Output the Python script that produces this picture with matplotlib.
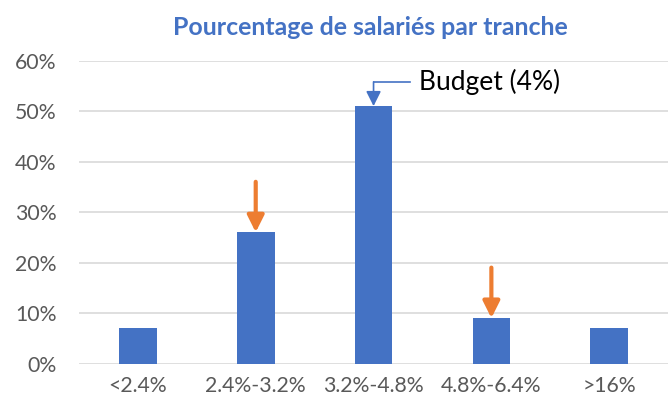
import matplotlib.pyplot as plt
from matplotlib.ticker import PercentFormatter

# Data
categories = ['<2.4%', '2.4%-3.2%', '3.2%-4.8%', '4.8%-6.4%', '>16%']
shares = [0.07, 0.26, 0.51, 0.09, 0.07]
marked = [1, 3]          # bars with an orange arrow
arrow_top = [0.36, 0.19]
budget_idx = 2
budget_label = 'Budget (4%)'
title = 'Pourcentage de salariés par tranche'

blue = '#4472C4'
orange = '#ED7D31'
grey = '#595959'

plt.rcParams['font.family'] = ['Lato', 'DejaVu Sans']

fig = plt.figure(figsize=(6.71, 4.03), dpi=100)
ax = fig.add_axes([0.1177, 0.098, 0.878, 0.7514])

x = range(len(categories))
ax.bar(x, shares, width=0.32, color=blue, zorder=3)

# Orange arrows pointing at selected bars
for i, top in zip(marked, arrow_top):
    ax.annotate('', xy=(i, shares[i]), xytext=(i, top),
                arrowprops=dict(arrowstyle='-|>,head_length=1.0,head_width=0.5',
                                color=orange, lw=3, shrinkA=0, shrinkB=0),
                zorder=4)

# Budget callout above the tallest bar
elbow_y = 0.558
ax.plot([budget_idx, budget_idx + 0.31], [elbow_y, elbow_y], color=blue, lw=1.2, zorder=4)
ax.annotate('', xy=(budget_idx, shares[budget_idx]), xytext=(budget_idx, elbow_y),
            arrowprops=dict(arrowstyle='-|>,head_length=0.9,head_width=0.45',
                            color=blue, lw=1.2, shrinkA=0, shrinkB=0),
            zorder=4)
ax.text(budget_idx + 0.385, elbow_y, budget_label, fontsize=19,
        color='black', va='center', ha='left')

ax.set_xlim(-0.5, len(categories) - 0.5)
ax.set_ylim(0, 0.6)
ax.set_yticks([0, 0.1, 0.2, 0.3, 0.4, 0.5, 0.6])
ax.yaxis.set_major_formatter(PercentFormatter(1.0, decimals=0))
ax.set_xticks(list(x))
ax.set_xticklabels(categories)

ax.grid(True, axis='y', color='#D9D9D9', lw=1.2, zorder=0)
for s in ax.spines.values():
    s.set_visible(False)
ax.tick_params(axis='both', length=0, labelsize=15.3, colors=grey)
ax.tick_params(axis='y', pad=16)
ax.tick_params(axis='x', pad=9)

fig.text(0.552, 0.932, title, fontsize=17.9, fontweight='bold', color=blue,
         ha='center', va='center')

fig.savefig('out.png', dpi=100)
